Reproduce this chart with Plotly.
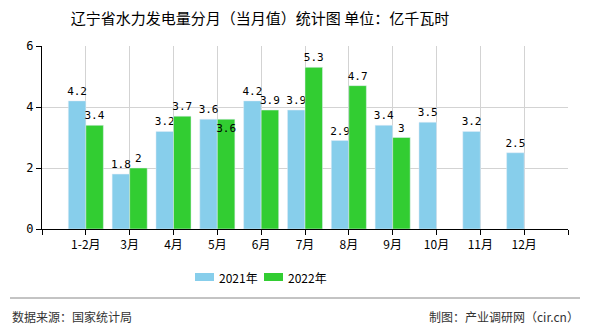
import plotly.graph_objects as go

categories = ["1-2月", "3月", "4月", "5月", "6月", "7月", "8月", "9月", "10月", "11月", "12月"]
values_2021 = [4.2, 1.8, 3.2, 3.6, 4.2, 3.9, 2.9, 3.4, 3.5, 3.2, 2.5]
values_2022 = [3.4, 2, 3.7, 3.6, 3.9, 5.3, 4.7, 3, None, None, None]
series_names = ["2021年", "2022年"]
series_colors = ["#87CEEB", "#32CD32"]
y_ticks = [0, 2, 4, 6]

xs = list(range(len(categories)))
mono = "DejaVu Sans Mono, Liberation Mono, monospace"
cjk = "Noto Sans CJK SC, sans-serif"

def fmt(v):
    return "" if v is None else ("%g" % v)

fig = go.Figure()
for si, (name, vals, col) in enumerate(zip(series_names, [values_2021, values_2022], series_colors)):
    # the reference pushes the colliding 5月 2022 label onto the bar top
    positions = ["inside" if (si == 1 and i == 3) else "outside" for i in range(len(vals))]
    fig.add_trace(go.Bar(x=xs, y=vals, name=name, marker_color=col,
                         text=[fmt(v) for v in vals], textposition=positions,
                         insidetextanchor="end", textangle=0,
                         textfont=dict(family=mono, size=11, color="#000"),
                         insidetextfont=dict(family=mono, size=11, color="#000"),
                         outsidetextfont=dict(family=mono, size=11, color="#000"),
                         cliponaxis=False, showlegend=False))

tickvals = [-1] + xs + [len(categories)]
ticktext = [""] + categories + [""]

L, T, W, H = 42, 46, 526, 183
def px(x): return (x - L) / W
def py(y): return (T + H - y) / H

shapes = [dict(type="line", xref="paper", yref="paper", x0=px(10), x1=px(580), y0=py(298), y1=py(298),
               line=dict(color="#888", width=1))]
annotations = [
    dict(text="数据来源：国家统计局", xref="paper", yref="paper", x=px(10), y=py(316),
         xanchor="left", yanchor="middle", showarrow=False,
         font=dict(family=cjk, size=12, color="#333")),
    dict(text="制图：产业调研网（cir.cn）", xref="paper", yref="paper", x=px(581), y=py(316),
         xanchor="right", yanchor="middle", showarrow=False,
         font=dict(family=cjk, size=12, color="#333")),
]
legend_x = [195, 264]
for lx, name, col in zip(legend_x, series_names, series_colors):
    shapes.append(dict(type="rect", xref="paper", yref="paper", x0=px(lx), x1=px(lx + 19),
                       y0=py(281), y1=py(273), fillcolor=col, line=dict(width=0)))
    annotations.append(dict(text=name, xref="paper", yref="paper", x=px(lx + 22), y=py(277),
                            xanchor="left", yanchor="middle", showarrow=False,
                            font=dict(family=cjk, size=12, color="#000")))

fig.update_layout(
    width=590, height=330,
    margin=dict(l=L, r=590 - L - W, t=T, b=330 - T - H),
    paper_bgcolor="white", plot_bgcolor="white",
    barmode="group", bargap=0.2, bargroupgap=0,
    uniformtext=dict(minsize=11, mode="show"),
    title=dict(text="辽宁省水力发电量分月（当月值）统计图 单位：亿千瓦时", xref="container",
               x=260 / 590, xanchor="center",
               y=1 - 19 / 330, yanchor="middle", font=dict(family=cjk, size=15, color="#000")),
    xaxis=dict(range=[-1, len(categories)], tickvals=tickvals, ticktext=ticktext,
               showline=True, linecolor="#000", linewidth=1, ticks="outside", ticklen=5,
               tickcolor="#000", showgrid=True, gridcolor="#d3d3d3", gridwidth=1,
               zeroline=False, tickfont=dict(family=cjk, size=12, color="#000")),
    yaxis=dict(range=[0, 6], tickvals=y_ticks, showline=True, linecolor="#000", linewidth=1,
               ticks="outside", ticklen=5, tickcolor="#000", showgrid=True, gridcolor="#d3d3d3",
               zeroline=False, tickfont=dict(family=mono, size=12, color="#000")),
    shapes=shapes,
    annotations=annotations,
)

fig.write_html("out.html")
